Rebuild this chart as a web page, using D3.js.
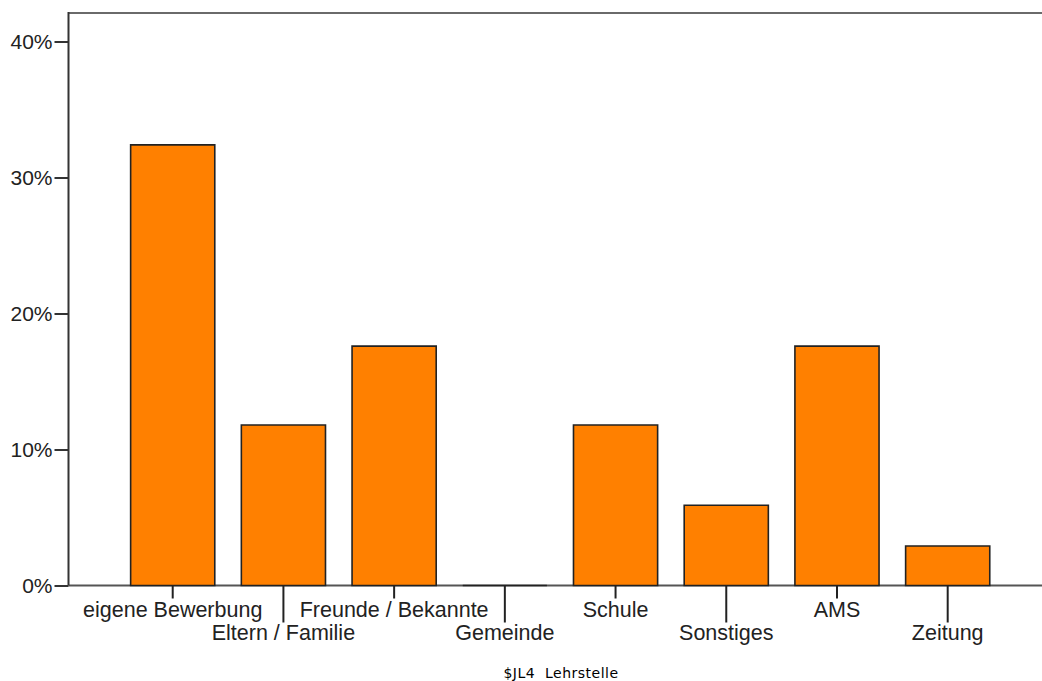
<!DOCTYPE html>
<html><head><meta charset="utf-8">
<script src="https://cdn.jsdelivr.net/npm/d3@7"></script>
<style>body{margin:0;background:#fff}svg{display:block}</style>
</head><body>
<svg id="c" width="1042" height="681"></svg>
<script>
const categories = ["eigene Bewerbung","Eltern / Familie","Freunde / Bekannte","Gemeinde","Schule","Sonstiges","AMS","Zeitung"];
const values = [32.4, 11.8, 17.6, 0, 11.8, 5.9, 17.6, 2.9];
const yTicks = [0, 10, 20, 30, 40];
const xTitle = "$JL4  Lehrstelle";

const svg = d3.select("#c");
const pLeft = 68.5, pRight = 1042, pTop = 13, pBottom = 585.5;
const x = d3.scaleBand().domain(categories).range([117.35, 1003.05]).paddingInner(0.24).paddingOuter(0.12);
const y = d3.scaleLinear().domain([0, 40]).range([pBottom, 41.5]);

// frame: top line
svg.append("line").attr("x1", pLeft).attr("x2", pRight).attr("y1", pTop).attr("y2", pTop)
  .attr("stroke", "#6a6a6a").attr("stroke-width", 2);

// x axis baseline
svg.append("line").attr("x1", pLeft).attr("x2", pRight).attr("y1", pBottom).attr("y2", pBottom)
  .attr("stroke", "#555").attr("stroke-width", 2);

// bars (as closed paths so zero-height bars still show their outline)
svg.append("g").selectAll("path").data(values).join("path")
  .attr("d", (d, i) => {
    const x0 = x(categories[i]), w = x.bandwidth(), y0 = y(0), y1 = y(d);
    return `M${x0},${y0}V${y1}H${x0 + w}V${y0}Z`;
  })
  .attr("fill", "#ff8000")
  .attr("stroke", "#222").attr("stroke-width", 1.6);

// y axis
const yAxis = d3.axisLeft(y).tickValues(yTicks).tickSize(14).tickPadding(2).tickFormat(d => d + "%");
const gy = svg.append("g").attr("transform", `translate(${pLeft},0)`).call(yAxis);
gy.select(".domain").remove();
gy.selectAll(".tick line").attr("stroke", "#333").attr("stroke-width", 2);
gy.selectAll(".tick text").attr("font-family", "Liberation Sans, Arial, sans-serif").attr("font-size", 21).attr("fill", "#222");
svg.append("line").attr("x1", pLeft).attr("x2", pLeft).attr("y1", pTop - 1).attr("y2", pBottom)
  .attr("stroke", "#333").attr("stroke-width", 2);

// x axis ticks + labels
const xAxis = d3.axisBottom(x).tickSize(0).tickFormat("");
const gx = svg.append("g").attr("transform", `translate(0,${pBottom})`).call(xAxis);
gx.select(".domain").remove();
gx.selectAll(".tick").each(function(d, i) {
  const g = d3.select(this);
  const longT = i % 2 === 1;
  g.append("line").attr("y1", 0).attr("y2", longT ? 37 : 13).attr("stroke", "#222").attr("stroke-width", 2);
  g.append("text").attr("y", longT ? 54.5 : 31.5).attr("text-anchor", "middle")
    .attr("font-family", "Liberation Sans, Arial, sans-serif").attr("font-size", 21.5).attr("fill", "#222")
    .text(categories[i]);
});

// x title
svg.append("text").attr("x", 561).attr("y", 678).attr("text-anchor", "middle")
  .attr("font-family", "DejaVu Sans, sans-serif").attr("font-size", 14).attr("letter-spacing", 0.5)
  .style("white-space", "pre")
  .attr("fill", "#000").text(xTitle);
</script>
</body></html>
